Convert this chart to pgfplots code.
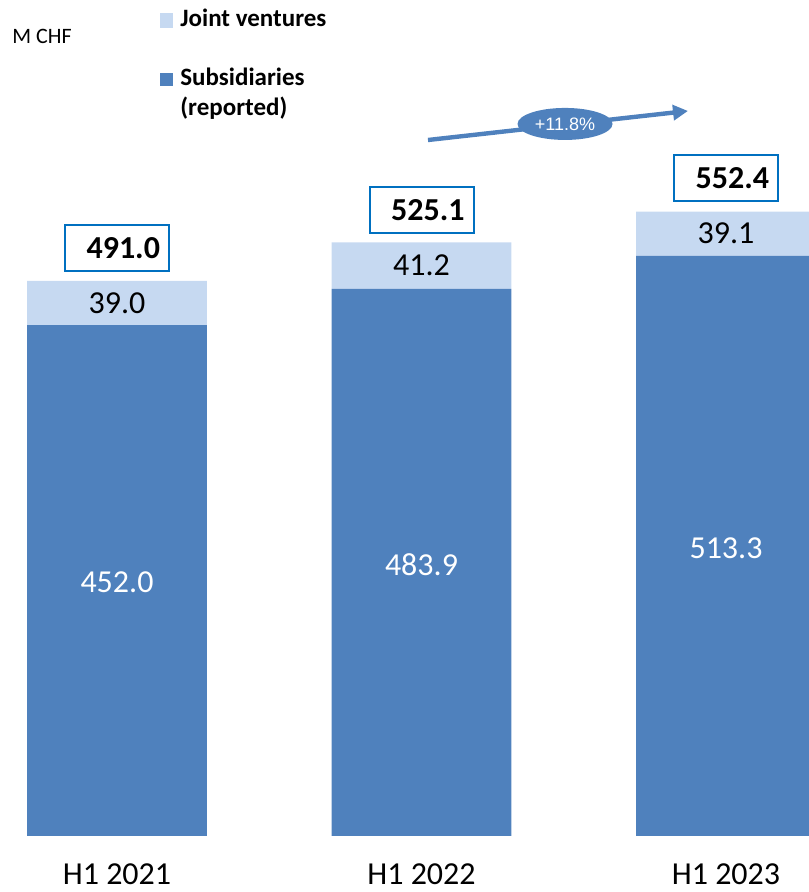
\documentclass[border=0pt]{standalone}
\usepackage{pgfplots}
\pgfplotsset{compat=1.18}
\usepackage{pgfplotstable}
\usepackage{fontspec}
\setmainfont{Carlito}
\newfontfamily\arialfont{Liberation Sans}
\usetikzlibrary{arrows.meta,shapes.geometric}
\definecolor{subblue}{HTML}{4F81BD}
\definecolor{jvblue}{HTML}{C6D9F1}
\definecolor{boxblue}{HTML}{0070C0}

% M CHF, H1 of each year
\pgfplotstableread{
x sub jv total
0 452.0 39.0 491.0
1 483.9 41.2 525.1
2 513.3 39.1 552.4
}\revenue

\begin{document}
\begin{tikzpicture}
\begin{axis}[
  scale only axis, width=404pt, height=446pt,
  xmin=-0.3842, xmax=2.2693, ymin=-49.54, ymax=739.56,
  ybar stacked, bar width=0.591,
  axis line style={draw=none}, major tick length=0pt,
  ytick=\empty, xtick={0,1,2},
  xticklabels={H1 2021,H1 2022,H1 2023},
  xticklabel style={anchor=base, inner sep=0pt, yshift=3.5pt,
    font=\fontsize{16}{19}\selectfont},
  clip=false,
]
% stacked nodes near coords sit in the middle of each segment
\addplot[fill=subblue, draw=none,
  nodes near coords, point meta=explicit symbolic,
  every node near coord/.append style={anchor=center, text=white, yshift=-1pt,
    font=\fontsize{16}{19}\selectfont}]
  table[x=x, y=sub, meta=sub] {\revenue};
\addplot[fill=jvblue, draw=none,
  nodes near coords, point meta=explicit symbolic,
  every node near coord/.append style={anchor=south, draw=boxblue, line width=1pt, fill=white,
    text=black, font=\bfseries\fontsize{16}{19}\selectfont,
    yshift=15.6pt, minimum height=23pt, text width=43pt, align=right,
    inner xsep=4.5pt, inner ysep=0pt}]
  table[x=x, y=jv, meta=total] {\revenue};

% anchor points for the joint venture values and the growth arrow
\coordinate (j0) at (axis cs:0,471.5);
\coordinate (j1) at (axis cs:1,504.5);
\coordinate (j2) at (axis cs:2,532.85);
\coordinate (a0) at (axis cs:1.0213,615.7);
\coordinate (a1) at (axis cs:1.8752,641.4);
\coordinate (ac) at (axis cs:1.4713,629.9);
\end{axis}
\pgfresetboundingbox
\path (0,0) rectangle (404pt,446pt);

\begin{scope}[font=\fontsize{16}{19}\selectfont, yshift=-1pt]
\node at (j0) {39.0};
\node at (j1) {41.2};
\node at (j2) {39.1};
\end{scope}

\draw[subblue, line width=2.2pt, -{Triangle[length=7.5pt,width=7.5pt]}] (a0) -- (a1);
\node[ellipse, fill=subblue, minimum width=47.5pt, minimum height=16pt, inner sep=0pt,
  text=white, font=\arialfont\fontsize{9}{11}\selectfont] at (ac) {+11.8\%};

% unit and legend
\node[anchor=base west, inner sep=0pt, font=\fontsize{11}{13}\selectfont] at (6pt,424pt) {M CHF};
\fill[jvblue] (80pt,439.35pt) rectangle (86.5pt,432.15pt);
\node[anchor=base west, inner sep=0pt, font=\bfseries\fontsize{12.5}{15}\selectfont] at (90pt,432.65pt) {Joint ventures};
\fill[subblue] (80pt,409.5pt) rectangle (86.5pt,403pt);
\node[anchor=base west, inner sep=0pt, font=\bfseries\fontsize{12.5}{15}\selectfont] at (90pt,403pt) {Subsidiaries};
\node[anchor=base west, inner sep=0pt, font=\bfseries\fontsize{12.5}{15}\selectfont] at (90pt,388pt) {(reported)};
\end{tikzpicture}
\end{document}
